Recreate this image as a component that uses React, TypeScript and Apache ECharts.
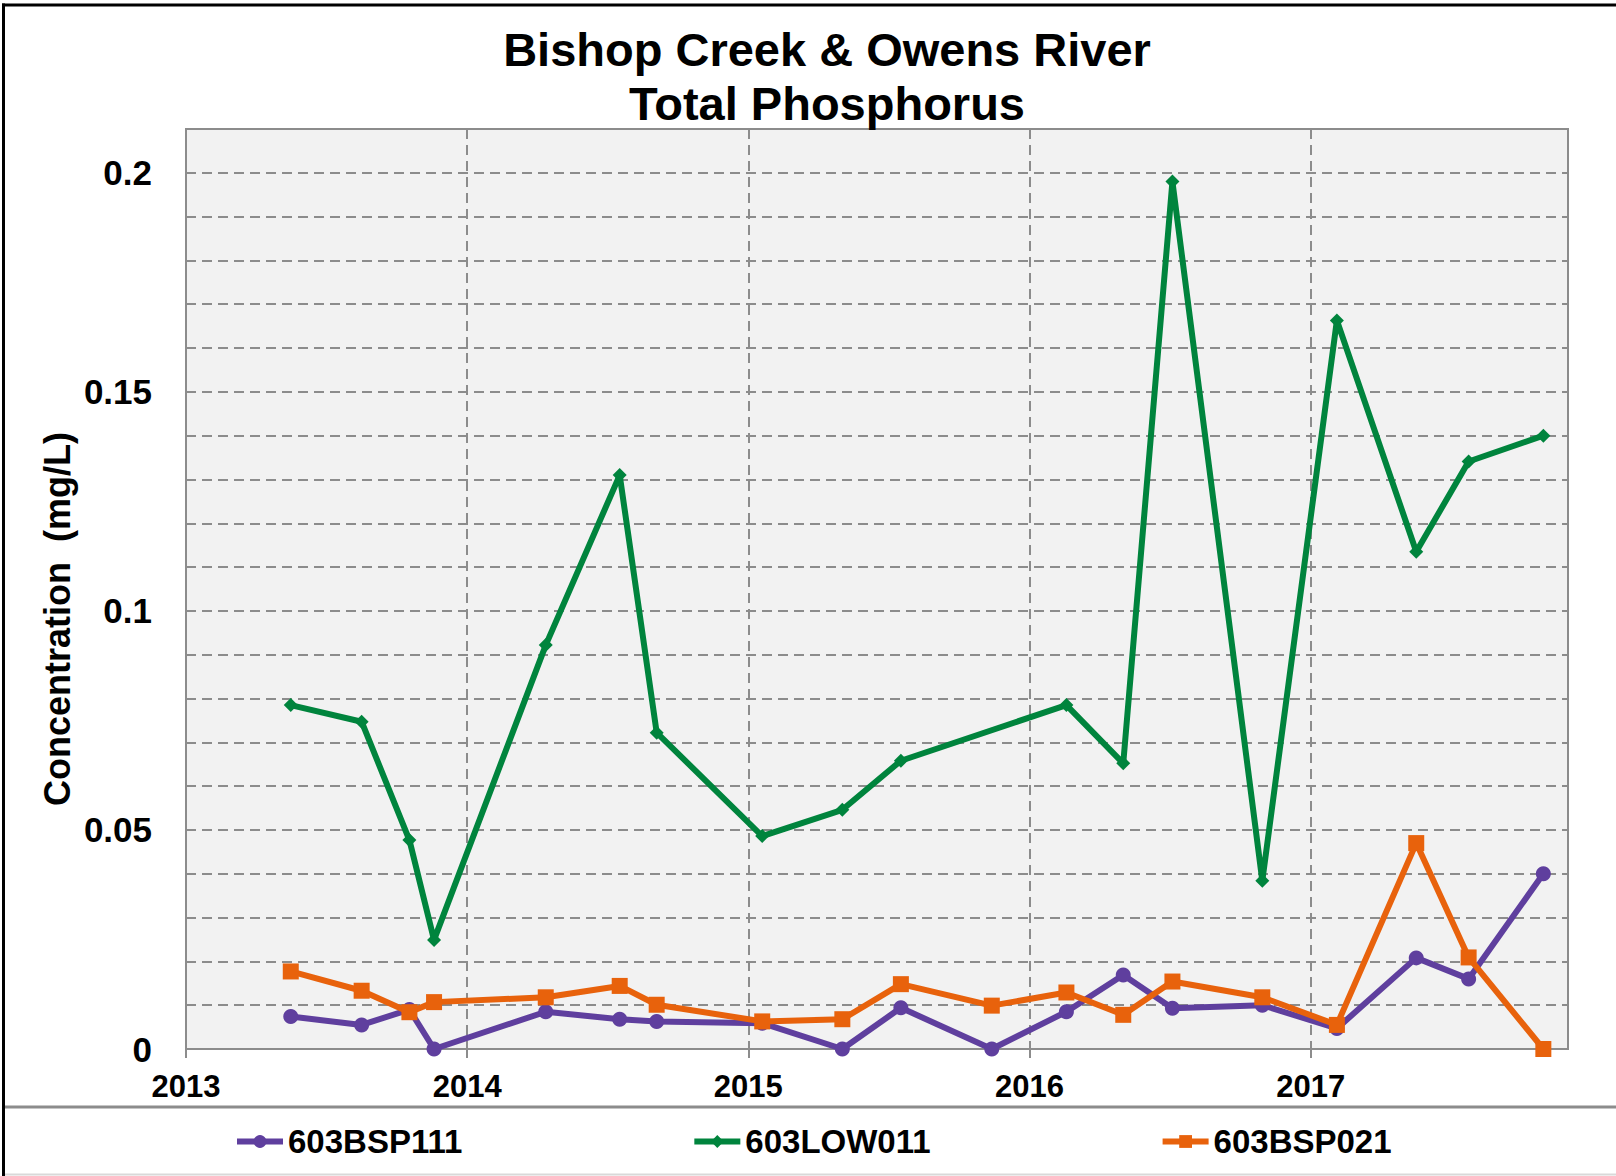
import React, { useEffect, useRef } from "react";
import * as echarts from "echarts";

const TITLE = "Bishop Creek & Owens River\nTotal Phosphorus";
const Y_NAME = "Concentration  (mg/L)";
const SERIES_NAMES = ["603BSP111", "603LOW011", "603BSP021"];
const SERIES_COLORS = ["#5f3f9e", "#00843d", "#e8620c"];

const DATES = [
  "2013-05-17", "2013-08-17", "2013-10-18", "2013-11-19", "2014-04-13",
  "2014-07-18", "2014-09-04", "2015-01-19", "2015-05-03", "2015-07-18",
  "2015-11-13", "2016-02-18", "2016-05-02", "2016-07-05", "2016-10-30",
  "2017-02-04", "2017-05-18", "2017-07-25", "2017-10-30",
];

const BSP111 = [
  0.0074, 0.0055, 0.009, 0, 0.0085, 0.0068, 0.0063, 0.0059, 0, 0.0094,
  0, 0.0085, 0.0169, 0.0093, 0.01, 0.0047, 0.0208, 0.016, 0.04,
];
const LOW011 = [
  0.0785, 0.0747, 0.0477, 0.0249, 0.0922, 0.131, 0.0722, 0.0486, 0.0546, 0.0658,
  null, 0.0785, 0.0652, 0.198, 0.0384, 0.1663, 0.1135, 0.1341, 0.14,
];
const BSP021 = [
  0.0177, 0.0133, 0.0084, 0.0107, 0.0118, 0.0144, 0.0101, 0.0063, 0.0068, 0.0148,
  0.0099, 0.0129, 0.0078, 0.0154, 0.0118, 0.0055, 0.047, 0.0209, 0,
];

const X_MIN_DATE = "2013-01-01";
const X_MAX_DATE = "2017-12-01";
const YEAR_TICKS = [2013, 2014, 2015, 2016, 2017];

const FONT = "'Liberation Sans', Arial, sans-serif";

function toYear(s: string): number {
  const [y, m, d] = s.split("-").map(Number);
  const t = Date.UTC(y, m - 1, d);
  const t0 = Date.UTC(y, 0, 1);
  const t1 = Date.UTC(y + 1, 0, 1);
  return y + (t - t0) / (t1 - t0);
}

export default function App() {
  const ref = useRef<HTMLDivElement>(null);

  useEffect(() => {
    if (!ref.current) return;
    const chart = echarts.init(ref.current, null, { renderer: "svg" });
    const mk = (vals: (number | null)[]) => DATES.map((d, i) => [toYear(d), vals[i]]);
    const lineW = 6;
    const option: any = {
      animation: false,
      backgroundColor: "#ffffff",
      title: {
        text: TITLE,
        left: 822,
        top: 17,
        textAlign: "center",
        textStyle: {
          fontFamily: FONT,
          fontSize: 47,
          fontWeight: "bold",
          color: "#000",
          lineHeight: 54,
        },
      },
      legend: {
        left: 229,
        top: 1120,
        itemWidth: 46,
        itemHeight: 16,
        itemGap: 229,
        data: SERIES_NAMES,
        lineStyle: { width: 6 },
        textStyle: { fontFamily: FONT, fontSize: 33, fontWeight: "bold", color: "#000" },
      },
      grid: {
        left: 186,
        top: 129,
        right: 48,
        bottom: 127,
        show: true,
        backgroundColor: "#f2f2f2",
        borderColor: "#8c8c8c",
        borderWidth: 2,
        containLabel: false,
        outerBoundsMode: "none",
      },
      xAxis: {
        type: "value",
        min: toYear(X_MIN_DATE),
        max: toYear(X_MAX_DATE),
        interval: 1,
        axisLine: { show: true, lineStyle: { color: "#8c8c8c", width: 2 } },
        axisTick: {
          show: true,
          length: 9,
          inside: false,
          customValues: YEAR_TICKS,
          lineStyle: { color: "#8c8c8c", width: 2 },
        },
        splitLine: {
          show: true,
          lineStyle: { color: "#8c8c8c", width: 2, type: [10, 6] },
        },
        axisLabel: {
          customValues: YEAR_TICKS,
          margin: 22,
          fontFamily: FONT,
          fontSize: 31,
          fontWeight: "bold",
          color: "#000",
          formatter: (v: number) => (Math.abs(v - Math.round(v)) < 1e-6 ? String(Math.round(v)) : ""),
        },
      },
      yAxis: {
        type: "value",
        min: 0,
        max: 0.21,
        interval: 0.01,
        axisLine: { show: true, lineStyle: { color: "#8c8c8c", width: 2 } },
        axisTick: { show: false },
        splitLine: {
          show: true,
          lineStyle: { color: "#8c8c8c", width: 2, type: [10, 6] },
        },
        axisLabel: {
          margin: 34,
          fontFamily: FONT,
          fontSize: 35,
          fontWeight: "bold",
          color: "#000",
          formatter: (v: number) => {
            const k = v / 0.05;
            return Math.abs(k - Math.round(k)) < 1e-6 ? String(Math.round(v * 100) / 100) : "";
          },
        },
      },
      graphic: [
        {
          type: "text",
          x: 57,
          y: 619,
          rotation: Math.PI / 2,
          style: {
            text: Y_NAME,
            fontFamily: FONT,
            fontSize: 36,
            fontWeight: "bold",
            fill: "#000",
            textAlign: "center",
            textVerticalAlign: "middle",
          },
        },
        { type: "line", shape: { x1: 2, y1: 5, x2: 1616, y2: 5 }, style: { stroke: "#000", lineWidth: 3 } },
        { type: "line", shape: { x1: 3.5, y1: 3.5, x2: 3.5, y2: 1176 }, style: { stroke: "#000", lineWidth: 3 } },
        { type: "line", shape: { x1: 5, y1: 1107, x2: 1616, y2: 1107 }, style: { stroke: "#8c8c8c", lineWidth: 3 } },
        { type: "line", shape: { x1: 5, y1: 1174.5, x2: 1616, y2: 1174.5 }, style: { stroke: "#d9d9d9", lineWidth: 2 } },
      ],
      series: [
        {
          name: SERIES_NAMES[0],
          type: "line",
          data: mk(BSP111),
          symbol: "circle",
          symbolSize: 15,
          showAllSymbol: true,
          lineStyle: { color: SERIES_COLORS[0], width: lineW },
          itemStyle: { color: SERIES_COLORS[0] },
          emphasis: { disabled: true },
        },
        {
          name: SERIES_NAMES[1],
          type: "line",
          data: mk(LOW011),
          connectNulls: true,
          symbol: "diamond",
          symbolSize: 14,
          showAllSymbol: true,
          lineStyle: { color: SERIES_COLORS[1], width: lineW },
          itemStyle: { color: SERIES_COLORS[1] },
          emphasis: { disabled: true },
        },
        {
          name: SERIES_NAMES[2],
          type: "line",
          data: mk(BSP021),
          symbol: "rect",
          symbolSize: 16,
          showAllSymbol: true,
          lineStyle: { color: SERIES_COLORS[2], width: lineW },
          itemStyle: { color: SERIES_COLORS[2] },
          emphasis: { disabled: true },
        },
      ],
    };
    chart.setOption(option);
    return () => chart.dispose();
  }, []);

  return (
    <div
      ref={ref}
      style={{ position: "absolute", left: 0, top: 0, width: 1616, height: 1176, background: "#fff" }}
    />
  );
}
